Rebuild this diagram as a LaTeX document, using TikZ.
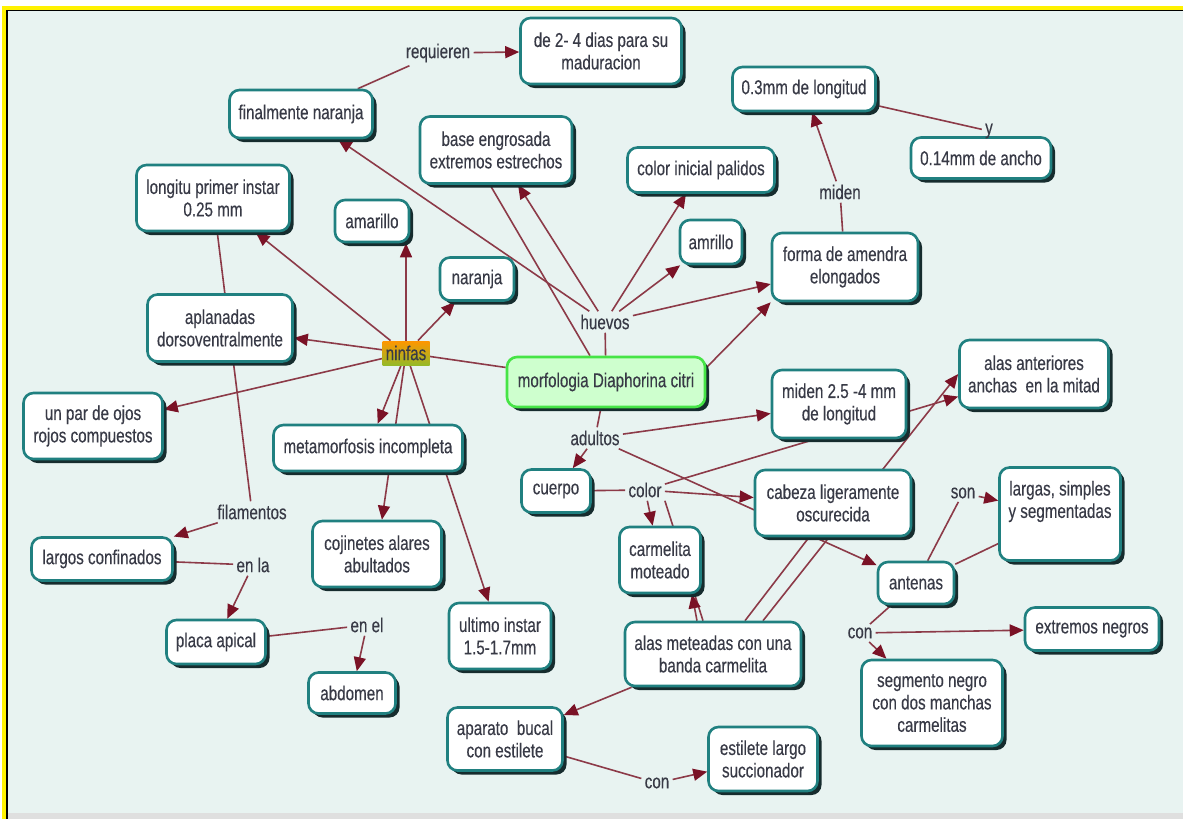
\documentclass[tikz,border=0pt]{standalone}
\usepackage{fontspec}
\setmainfont{Liberation Sans}[FakeStretch=0.76, FakeBold=0.3]
\usepackage{tikz}
\usetikzlibrary{arrows.meta, shapes, shadows, backgrounds}

\definecolor{bgc}{RGB}{232,243,241}
\definecolor{boxc}{RGB}{32,128,128}
\definecolor{shadc}{RGB}{22,44,46}
\definecolor{txtc}{RGB}{56,58,70}
\definecolor{edgec}{RGB}{140,58,72}
\definecolor{arrc}{RGB}{122,18,38}
\definecolor{mainfill}{RGB}{206,255,206}
\definecolor{maindraw}{RGB}{70,228,70}
\definecolor{ninfaor}{RGB}{255,150,0}
\definecolor{ninfagr}{RGB}{150,185,40}

\begin{document}
\begin{tikzpicture}[
      x=0.5pt, y=-0.5pt,
      >={Triangle[length=7pt,width=6pt,color=arrc]},
      font=\fontsize{10}{11.2}\selectfont,
      block/.style = {
        draw=boxc,
        line width=1.3pt,
        rounded corners=5pt,
        fill=white,
        text=txtc,
        inner sep=3pt,
        align=center,
        drop shadow={shadow xshift=2pt, shadow yshift=-2pt, fill=shadc, opacity=1}
      },
      link/.style = {text=txtc, inner sep=1.5pt},
      edge/.style = {draw=edgec, line width=0.8pt}
    ]

    \useasboundingbox (0,0) rectangle (1183,819);

    \node[block, draw=maindraw, fill=mainfill, minimum width=99pt, minimum height=25pt] (main) at (606,382) {morfologia Diaphorina citri};

    \node[block, minimum width=80.5pt, minimum height=33pt] (dias)     at (601,51)  {de 2- 4 dias para su\\maduracion};
    \node[block, minimum width=71.5pt, minimum height=24pt] (finnar)   at (301,114) {finalmente naranja};
    \node[block, minimum width=71.5pt, minimum height=22pt] (mmlong)   at (804,89)  {0.3mm de longitud};
    \node[block, minimum width=70pt,   minimum height=20.5pt] (mmancho) at (981,158) {0.14mm de ancho};
    \node[block, minimum width=73pt,   minimum height=34pt] (forma)    at (845,267) {forma de amendra\\elongados};
    \node[block, minimum width=76pt,   minimum height=33.5pt] (base)   at (496,150) {base engrosada\\extremos estrechos};
    \node[block, minimum width=73.5pt, minimum height=22.5pt] (colini) at (701,170) {color inicial palidos};
    \node[block, minimum width=31pt,   minimum height=22pt] (amrillo)  at (711,242) {amrillo};
    \node[block, minimum width=76.5pt, minimum height=33pt] (longitu)  at (213,198) {longitu primer instar\\0.25 mm};
    \node[block, minimum width=37pt,   minimum height=21pt] (amarillo) at (372,221) {amarillo};
    \node[block, minimum width=37pt,   minimum height=21.5pt] (naranja) at (477,279) {naranja};
    \node[block, minimum width=72.5pt, minimum height=33.5pt] (aplan)  at (220,328) {aplanadas\\dorsoventralmente};
    \node[block, minimum width=69.5pt, minimum height=33pt] (ojos)     at (93,426)  {un par de ojos\\rojos compuestos};
    \node[block, minimum width=94.5pt, minimum height=23pt] (metam)    at (368,448) {metamorfosis incompleta};
    \node[block, minimum width=70.5pt, minimum height=21.5pt] (largos) at (102,559) {largos confinados};
    \node[block, minimum width=49.5pt, minimum height=22pt] (placa)    at (216,642) {placa apical};
    \node[block, minimum width=43.5pt, minimum height=20.5pt] (abdomen) at (352,693) {abdomen};
    \node[block, minimum width=64.5pt, minimum height=33pt] (cojin)    at (377,554) {cojinetes alares\\abultados};
    \node[block, minimum width=51pt,   minimum height=33pt] (ultimo)   at (500,636) {ultimo instar\\1.5-1.7mm};
    \node[block, minimum width=67pt,   minimum height=34pt] (midenlong) at (839,404) {miden 2.5 -4 mm\\de longitud};
    \node[block, minimum width=74.5pt, minimum height=34pt] (alasant)  at (1034,374) {alas anteriores\\anchas\ \ en la mitad};
    \node[block, minimum width=34.5pt, minimum height=21.5pt] (cuerpo) at (556,491) {cuerpo};
    \node[block, minimum width=78pt,   minimum height=33pt] (cabeza)   at (833,503) {cabeza ligeramente\\oscurecida};
    \node[block, minimum width=40.5pt, minimum height=33pt] (carmel)   at (660,560) {carmelita\\moteado};
    \node[block, minimum width=60.5pt, minimum height=46.5pt] (largas) at (1060,514) {largas, simples\\y segmentadas\\\strut};
    \node[block, minimum width=38pt,   minimum height=21pt] (antenas)  at (916,583) {antenas};
    \node[block, minimum width=67pt,   minimum height=21.5pt] (extneg) at (1092,629) {extremos negros};
    \node[block, minimum width=70.5pt, minimum height=43pt] (segm)     at (932,703) {segmento negro\\con dos manchas\\carmelitas};
    \node[block, minimum width=88pt,   minimum height=32pt] (alasmet)  at (713,654) {alas meteadas con una\\banda carmelita};
    \node[block, minimum width=57.5pt, minimum height=31.5pt] (aparato) at (505,739) {aparato\ \ bucal\\con estilete};
    \node[block, minimum width=54.5pt, minimum height=32pt] (estilete) at (763,759) {estilete largo\\succionador};

    \node[link, top color=ninfaor, middle color=ninfaor, bottom color=ninfagr, minimum width=23.5pt, minimum height=12pt, inner sep=0pt] (ninfas) at (406,353) {ninfas};
    \node[link] (huevos)    at (605,322) {huevos};
    \node[link] (adultos)   at (595,438) {adultos};
    \node[link] (requieren) at (438,53)  {requieren};
    \node[link] (miden)     at (840,192) {miden};
    \node[link] (yy)        at (989,131) {y};
    \node[link] (filam)     at (252,512) {filamentos};
    \node[link] (enla)      at (253,565) {en la};
    \node[link] (enel)      at (367,625) {en el};
    \node[link] (color)     at (645,490) {color};
    \node[link] (son)       at (963,493) {son};
    \node[link] (conant)    at (860,633) {con};
    \node[link] (conbuc)    at (657,783) {con};

    \begin{scope}[on background layer]
      \fill[white] (-10,-10) rectangle (1200,830);
      \fill[yellow] (2,6) rectangle (1200,830);
      \fill[black] (6,9.5) rectangle (1200,830);
      \fill[bgc] (7.5,11) rectangle (1200,813);
      \fill[gray!25] (7.5,813) rectangle (1200,830);

      \draw[edge] (main) -- (ninfas);
      \draw[edge] (main) -- (huevos);
      \draw[edge] (main) -- (adultos);
      \draw[edge] ([xshift=-3pt]base.south) -- ([xshift=-8pt]main.north);
      \draw[edge, ->] ([yshift=-6pt]main.north east) -- (forma.south west);

      \draw[edge, ->] (huevos) -- (finnar);
      \draw[edge, ->] (huevos) -- (base);
      \draw[edge, ->] (huevos) -- (colini);
      \draw[edge, ->] (huevos) -- (amrillo);
      \draw[edge, ->] (huevos) -- (forma);

      \draw[edge] (finnar) -- (requieren);
      \draw[edge, ->] (requieren) -- (dias);
      \draw[edge] (forma) -- (miden);
      \draw[edge, ->] (miden) -- (mmlong);
      \draw[edge] (mmlong) -- (yy);

      \draw[edge, ->] (ninfas) -- (longitu);
      \draw[edge, ->] (ninfas) -- (ninfas |- amarillo.south);
      \draw[edge, ->] (ninfas) -- (naranja);
      \draw[edge, ->] (ninfas) -- (aplan);
      \draw[edge, ->] (ninfas) -- (ojos);
      \draw[edge, ->] (ninfas) -- (metam);
      \draw[edge, ->] (ninfas) -- (cojin);
      \draw[edge, ->] (ninfas) -- (ultimo);

      \draw[edge] (longitu) -- (filam);
      \draw[edge, ->] (filam) -- (largos);
      \draw[edge] (largos) -- (enla);
      \draw[edge, ->] (enla) -- (placa);
      \draw[edge] (placa) -- (enel);
      \draw[edge, ->] (enel) -- (abdomen);

      \draw[edge, ->] (adultos) -- (cuerpo);
      \draw[edge, ->] (adultos) -- (midenlong);
      \draw[edge, ->] (adultos) -- (antenas);
      \draw[edge] (cuerpo) -- (color);
      \draw[edge, ->] (color) -- (cabeza);
      \draw[edge, ->] (color) -- (carmel);
      \draw[edge, ->] (color) -- (alasant);
      \draw[edge] (color.south east) -- ([xshift=-5pt]alasmet.north);

      \draw[edge, ->] ([xshift=-8pt]alasmet.north) -- ([xshift=16pt]carmel.south);
      \draw[edge, ->] ([xshift=25pt]alasmet.north) -- (alasant.west);
      \draw[edge] ([xshift=16pt]alasmet.north) -- ([xshift=-12pt]cabeza.south);
      \draw[edge, ->] (alasmet) -- (aparato);
      \draw[edge] (aparato) -- (conbuc);
      \draw[edge, ->] (conbuc) -- (estilete);

      \draw[edge] (antenas) -- (son);
      \draw[edge, ->] (son) -- (largas);
      \draw[edge] (antenas) -- (largas);
      \draw[edge] (antenas) -- (conant);
      \draw[edge, ->] (conant) -- (extneg);
      \draw[edge, ->] (conant) -- (segm);
    \end{scope}

  \end{tikzpicture}
\end{document}
